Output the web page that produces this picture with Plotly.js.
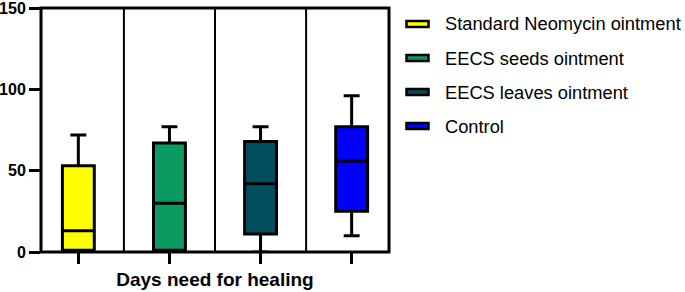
<!DOCTYPE html>
<html><head><meta charset="utf-8">
<script src="https://cdn.plot.ly/plotly-3.0.1.min.js"></script>
<style>html,body{margin:0;padding:0;background:#fff}#chart{width:685px;height:292px}</style>
</head><body><div id="chart"></div>
<script>
const groups = ['Standard Neomycin ointment','EECS seeds ointment','EECS leaves ointment','Control'];
const colors = ['#FFFF00','#0C9A63','#034E5E','#0000FF'];
const lowerFence = [1, 1, 0, 10];
const q1 = [1, 1, 11, 25];
const median = [13, 30, 42, 56];
const q3 = [53, 67, 68, 77];
const upperFence = [72, 77, 77, 96];
const yTicks = [0, 50, 100, 150];

const W = 685, H = 292, M = {l:41, r:296, t:8, b:40};
const pw = W - M.l - M.r, ph = H - M.t - M.b;
const px2x = px => (px - M.l) / pw;
const py2y = py => (H - M.b - py) / ph;

const traces = groups.map((g,i)=>({
  type:'box', name:g, x:[i],
  q1:[q1[i]], median:[median[i]], q3:[q3[i]],
  lowerfence:[lowerFence[i]], upperfence:[upperFence[i]],
  fillcolor:colors[i], line:{color:'#000',width:3},
  width:0.35, whiskerwidth:0.5, boxpoints:false, hoverinfo:'skip', showlegend:false
}));

const shapes = [0.5,1.5,2.5].map(v=>({type:'line',xref:'x',yref:'paper',x0:v,x1:v,y0:0,y1:1,line:{color:'#000',width:2},layer:'below'}));
shapes.push({type:'rect',xref:'paper',yref:'paper',x0:0,x1:1,y0:0,y1:1,line:{color:'#000',width:3},layer:'above'});

// legend built from the group names and colours
const annotations = [];
groups.forEach((g,i)=>{
  const cy = 24 + 34*i;
  shapes.push({type:'rect',xref:'paper',yref:'paper',
    x0:px2x(406.5),x1:px2x(428.5),y0:py2y(cy+3),y1:py2y(cy-3),
    fillcolor:colors[i],line:{color:'#000',width:2.5}});
  annotations.push({xref:'paper',yref:'paper',x:px2x(443),y:py2y(cy),xanchor:'left',yanchor:'middle',
    showarrow:false,text:g,font:{size:18.3,color:'#000'}});
});

Plotly.newPlot('chart', traces, {
  width:W, height:H,
  margin:M,
  paper_bgcolor:'#fff', plot_bgcolor:'#fff',
  showlegend:false,
  font:{family:'Liberation Sans, Arial, sans-serif',color:'#000'},
  xaxis:{range:[-0.41,3.41],tickmode:'array',tickvals:[0,1,2,3],showticklabels:false,
    ticks:'outside',ticklen:11,tickwidth:3,tickcolor:'#000',
    showline:false,showgrid:false,zeroline:false,
    title:{text:'<b>Days need for healing</b>',font:{size:19,color:'#000'},standoff:9}},
  yaxis:{range:[0,150.01],tickmode:'array',tickvals:yTicks,ticktext:yTicks.map(v=>'<b>'+v+'</b>'),
    ticks:'outside',ticklen:11,tickwidth:3,tickcolor:'#000',tickfont:{size:16,color:'#000'},
    ticklabeloverflow:'allow',
    showline:false,showgrid:false,zeroline:false},
  shapes:shapes, annotations:annotations
}, {displayModeBar:false, staticPlot:true});
</script></body></html>
